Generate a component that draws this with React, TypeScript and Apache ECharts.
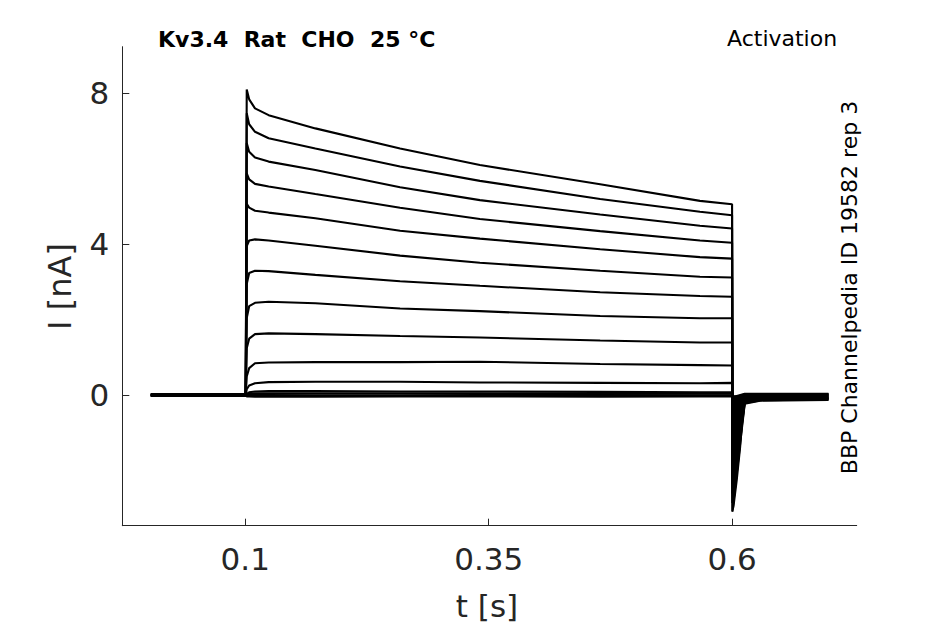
import React, { useEffect, useRef } from "react";
import * as echarts from "echarts";

// Axis ticks
const X_TICKS = [0.1, 0.35, 0.6];
const Y_TICKS = [0, 4, 8];

// Sample times (s)
const PRE_T = [0.003, 0.1005];
const PULSE_T = [0.1015, 0.104, 0.11, 0.124, 0.172, 0.259, 0.341, 0.4645, 0.567, 0.6];
const POST_T = [0.6003, 0.613, 0.63, 0.699];

// Current traces during the step (nA), one row per sweep
const PULSE_VALUES = [
  [8.1, 7.84, 7.6, 7.42, 7.07, 6.54, 6.1, 5.59, 5.15, 5.06],
  [7.47, 7.18, 6.98, 6.81, 6.54, 6.06, 5.68, 5.2, 4.86, 4.77],
  [6.68, 6.45, 6.3, 6.19, 5.97, 5.51, 5.17, 4.79, 4.49, 4.42],
  [5.88, 5.72, 5.6, 5.53, 5.33, 4.97, 4.67, 4.35, 4.1, 4.04],
  [5.07, 4.97, 4.89, 4.84, 4.69, 4.36, 4.15, 3.87, 3.66, 3.62],
  [3.95, 4.1, 4.13, 4.1, 3.96, 3.7, 3.51, 3.3, 3.14, 3.12],
  [2.95, 3.24, 3.3, 3.29, 3.19, 3.02, 2.9, 2.73, 2.63, 2.61],
  [2.05, 2.36, 2.45, 2.48, 2.44, 2.3, 2.23, 2.1, 2.04, 2.04],
  [1.25, 1.5, 1.62, 1.64, 1.62, 1.57, 1.53, 1.45, 1.4, 1.4],
  [0.5, 0.72, 0.85, 0.87, 0.88, 0.88, 0.89, 0.83, 0.8, 0.79],
  [0.16, 0.26, 0.32, 0.35, 0.36, 0.36, 0.34, 0.33, 0.32, 0.33],
  [0.04, 0.08, 0.1, 0.11, 0.11, 0.1, 0.1, 0.09, 0.08, 0.08],
  [0.03, 0.04, 0.05, 0.05, 0.05, 0.05, 0.05, 0.04, 0.04, 0.04],
  [0.0, 0.01, 0.01, 0.01, 0.0, 0.0, 0.01, 0.01, 0.0, 0.0],
  [-0.03, -0.03, -0.04, -0.03, -0.04, -0.03, -0.03, -0.04, -0.03, -0.03],
];

// Holding current before the step (nA)
const PRE_LEVELS = [0.03, 0.02, 0.01, 0.0, -0.01, 0.02, 0.0, -0.02, 0.01, 0.03, -0.01, 0.0, 0.02, -0.02, 0.01];
// Tail currents after the step (nA)
const SPIKE_DEPTH = [3.08, 2.85, 2.6, 2.35, 2.1, 1.8, 1.5, 1.2, 0.9, 0.6, 0.35, 0.2, 0.12, 0.08, 0.05];
const TAIL_A = [-0.22, -0.2, -0.18, -0.16, -0.14, -0.12, -0.1, -0.08, -0.06, -0.04, -0.02, 0.0, 0.02, 0.03, 0.04];
const TAIL_B = [-0.14, -0.13, -0.12, -0.11, -0.1, -0.09, -0.08, -0.06, -0.05, -0.03, -0.01, 0.0, 0.02, 0.03, 0.04];
const TAIL_C = [-0.12, -0.11, -0.1, -0.09, -0.08, -0.07, -0.06, -0.05, -0.04, -0.02, -0.01, 0.01, 0.02, 0.03, 0.04];

// Envelope of the tail spike
const SPIKE_T = [0.6, 0.6003, 0.6017, 0.6051, 0.6086, 0.6113, 0.613, 0.615];
const SPIKE_I = [0, -3.08, -2.95, -2.24, -1.36, -0.47, -0.23, -0.15];

const TITLE = "Kv3.4  Rat  CHO  25 °C";
const PROTOCOL = "Activation";
const SOURCE = "BBP Channelpedia ID 19582 rep 3";
const X_NAME = "t [s]";
const Y_NAME = "I [nA]";

const FONT = '"DejaVu Sans", "Liberation Sans", sans-serif';
const AXIS_COLOR = "#262626";

export default function App() {
  const ref = useRef<HTMLDivElement>(null);

  useEffect(() => {
    if (!ref.current) return;
    const chart = echarts.init(ref.current, null, { renderer: "svg" });

    const traceSeries = PULSE_VALUES.map((pulse, i) => {
      const data: number[][] = [];
      PRE_T.forEach((t) => data.push([t, PRE_LEVELS[i]]));
      PULSE_T.forEach((t, j) => data.push([t, pulse[j]]));
      data.push([POST_T[0], -SPIKE_DEPTH[i]]);
      data.push([POST_T[1], TAIL_A[i]]);
      data.push([POST_T[2], TAIL_B[i]]);
      data.push([POST_T[3], TAIL_C[i]]);
      return {
        type: "line",
        data,
        showSymbol: false,
        symbol: "none",
        silent: true,
        lineStyle: { color: "#000", width: 2.1 },
        z: 3,
      };
    });

    const spikeSeries = {
      type: "line",
      data: SPIKE_T.map((t, i) => [t, SPIKE_I[i]]),
      showSymbol: false,
      symbol: "none",
      silent: true,
      lineStyle: { color: "#000", width: 1.5 },
      areaStyle: { color: "#000", opacity: 1 },
      z: 2,
    };

    chart.setOption({
      animation: false,
      backgroundColor: "#fff",
      grid: {
        left: 122.3,
        right: 88.3,
        top: 46.7,
        bottom: 98.3,
        containLabel: false,
        outerBoundsMode: "none",
      },
      xAxis: {
        type: "value",
        min: -0.0263,
        max: 0.728,
        axisLine: { show: true, onZero: false, lineStyle: { color: AXIS_COLOR, width: 1 } },
        axisTick: {
          show: true,
          inside: true,
          length: 7,
          customValues: X_TICKS,
          lineStyle: { color: AXIS_COLOR, width: 1 },
        },
        axisLabel: {
          show: true,
          customValues: X_TICKS,
          formatter: (v: number) => String(v),
          fontSize: 31,
          fontFamily: FONT,
          color: AXIS_COLOR,
          margin: 18,
        },
        splitLine: { show: false },
      },
      yAxis: {
        type: "value",
        min: -3.454,
        max: 9.234,
        axisLine: { show: true, onZero: false, lineStyle: { color: AXIS_COLOR, width: 1 } },
        axisTick: {
          show: true,
          inside: true,
          length: 7,
          customValues: Y_TICKS,
          lineStyle: { color: AXIS_COLOR, width: 1 },
        },
        axisLabel: {
          show: true,
          customValues: Y_TICKS,
          formatter: (v: number) => String(v),
          fontSize: 31,
          fontFamily: FONT,
          color: AXIS_COLOR,
          margin: 13,
        },
        splitLine: { show: false },
      },
      graphic: [
        {
          type: "text",
          x: 158,
          y: 39.5,
          style: {
            text: TITLE,
            font: `bold 22px ${FONT}`,
            fill: "#000",
            textAlign: "left",
            textVerticalAlign: "middle",
            align: "left",
            verticalAlign: "middle",
          },
        },
        {
          type: "text",
          x: 727,
          y: 38.5,
          style: {
            text: PROTOCOL,
            font: `22px ${FONT}`,
            fill: "#000",
            textAlign: "left",
            textVerticalAlign: "middle",
            align: "left",
            verticalAlign: "middle",
          },
        },
        {
          type: "text",
          x: 849,
          y: 287.5,
          rotation: Math.PI / 2,
          style: {
            text: SOURCE,
            font: `22px ${FONT}`,
            fill: "#000",
            textAlign: "center",
            textVerticalAlign: "middle",
            align: "center",
            verticalAlign: "middle",
          },
        },
        {
          type: "text",
          x: 487,
          y: 606,
          style: {
            text: X_NAME,
            font: `31px ${FONT}`,
            fill: AXIS_COLOR,
            textAlign: "center",
            textVerticalAlign: "middle",
            align: "center",
            verticalAlign: "middle",
          },
        },
        {
          type: "text",
          x: 60,
          y: 286.5,
          rotation: Math.PI / 2,
          style: {
            text: Y_NAME,
            font: `32px ${FONT}`,
            fill: AXIS_COLOR,
            textAlign: "center",
            textVerticalAlign: "middle",
            align: "center",
            verticalAlign: "middle",
          },
        },
      ],
      series: [spikeSeries, ...traceSeries],
    });

    return () => chart.dispose();
  }, []);

  return (
    <div
      ref={ref}
      style={{ position: "fixed", left: 0, top: 0, width: 945, height: 624, background: "#fff" }}
    />
  );
}
